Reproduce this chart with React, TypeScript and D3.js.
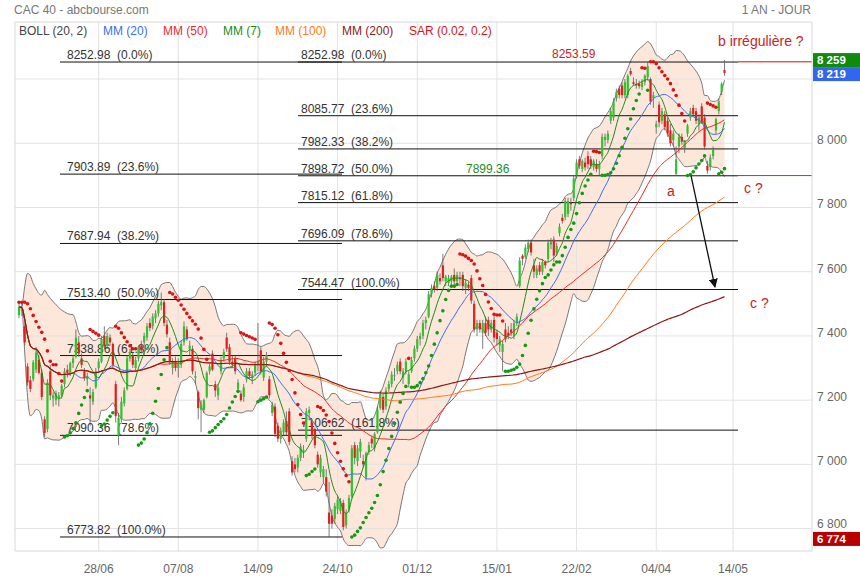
import React from 'react';
import * as d3 from 'd3';

// ---------- DATA ----------
const opens = [7465,7478,7430,7305,7262,7265,7295,7325,7285,7140,7110,7290,7205,7200,7205,7215,7250,7295,7285,7315,7335,7380,7330,7290,7265,7215,7195,7240,7300,7320,7400,7370,7395,7375,7250,7090,7140,7190,7235,7330,7340,7300,7330,7370,7380,7395,7440,7430,7455,7470,7495,7505,7435,7380,7300,7320,7300,7310,7380,7420,7360,7360,7270,7225,7170,7170,7210,7290,7345,7250,7215,7290,7330,7395,7365,7320,7330,7235,7220,7210,7265,7290,7270,7285,7310,7355,7270,7320,7265,7160,7180,7120,7080,7100,7135,7165,7010,7000,6990,7020,7040,7080,7160,7130,7110,7030,6975,6960,6960,6850,6840,6830,6860,6855,6880,6810,6860,6900,7060,7010,7040,7010,6960,7040,7080,7050,7100,7175,7210,7180,7235,7250,7275,7290,7320,7270,7290,7250,7290,7330,7360,7390,7400,7440,7460,7530,7555,7550,7580,7620,7570,7565,7570,7590,7570,7580,7590,7550,7560,7580,7500,7420,7440,7410,7440,7450,7420,7450,7410,7370,7350,7420,7410,7420,7400,7440,7555,7650,7645,7670,7690,7620,7590,7620,7600,7630,7640,7685,7700,7660,7720,7768,7770,7780,7815,7830,7900,7950,7920,7940,7960,7950,7925,7935,7920,7960,8010,8010,8070,8080,8140,8170,8180,8150,8150,8225,8190,8185,8185,8175,8190,8205,8200,8140,8050,8120,8070,8090,8070,8040,8010,7905,7990,8020,7985,8030,8080,8110,8100,8060,8115,8080,7930,7925,7960,8040,8100,8160,8228];
const highs = [7505,7500,7440,7315,7275,7325,7365,7340,7295,7150,7265,7310,7225,7230,7225,7250,7300,7310,7320,7340,7420,7400,7345,7300,7285,7240,7235,7300,7330,7400,7430,7410,7405,7380,7260,7160,7210,7240,7340,7360,7350,7335,7370,7385,7410,7440,7455,7470,7480,7510,7535,7515,7450,7395,7330,7335,7330,7385,7445,7430,7385,7370,7290,7230,7200,7205,7290,7315,7355,7260,7250,7335,7360,7410,7375,7340,7340,7265,7230,7250,7300,7300,7290,7320,7440,7365,7335,7350,7275,7195,7190,7130,7115,7140,7165,7175,7025,7020,7030,7065,7060,7175,7180,7140,7115,7040,7030,6995,6985,6945,6860,6880,6900,6895,6890,6860,6905,7060,7070,7060,7080,7030,7040,7070,7090,7100,7180,7230,7220,7240,7260,7290,7300,7320,7330,7300,7330,7290,7335,7370,7400,7410,7450,7460,7540,7560,7570,7600,7595,7655,7590,7590,7590,7610,7600,7600,7600,7575,7570,7590,7510,7450,7450,7450,7460,7460,7450,7465,7420,7400,7385,7440,7430,7440,7450,7470,7645,7655,7685,7700,7700,7640,7620,7630,7640,7635,7700,7705,7710,7690,7750,7780,7830,7830,7830,7900,7950,7960,7950,7955,7975,7960,7950,7950,7945,8030,8030,8040,8110,8140,8170,8180,8190,8200,8215,8235,8205,8200,8195,8200,8215,8253.59,8205,8160,8070,8130,8110,8100,8080,8060,8040,7990,8030,8030,8010,8060,8110,8120,8110,8090,8125,8090,7945,7965,7990,8080,8140,8190,8259];
const lows = [7455,7462,7370,7245,7225,7258,7285,7280,7200,7085,7100,7200,7180,7185,7180,7205,7240,7270,7275,7300,7330,7335,7300,7260,7245,7120,7185,7235,7290,7315,7360,7360,7370,7300,7130,7060,7130,7180,7230,7320,7300,7290,7320,7345,7340,7385,7415,7420,7440,7460,7480,7430,7395,7310,7280,7290,7270,7300,7370,7385,7340,7280,7250,7140,7100,7160,7205,7280,7290,7210,7200,7280,7320,7350,7310,7300,7280,7230,7195,7195,7255,7265,7250,7275,7290,7280,7260,7305,7205,7150,7085,7070,7065,7090,7090,7060,6965,6975,6975,7010,7020,7070,7140,7080,7050,6990,6960,6940,6900,6773.82,6800,6815,6845,6845,6795,6800,6850,6895,7000,6995,7020,6990,6950,7030,7050,7040,7095,7170,7160,7170,7225,7240,7260,7280,7280,7250,7280,7240,7285,7320,7350,7370,7390,7420,7455,7520,7535,7540,7560,7570,7555,7555,7560,7560,7560,7555,7540,7530,7540,7500,7410,7400,7410,7360,7400,7400,7410,7380,7370,7350,7290,7380,7390,7400,7390,7430,7550,7620,7640,7660,7650,7580,7580,7590,7590,7610,7630,7670,7630,7650,7710,7750,7760,7770,7790,7820,7890,7920,7910,7915,7920,7920,7915,7910,7900,7950,7990,8000,8060,8070,8130,8140,8140,8140,8140,8210,8180,8170,8170,8165,8180,8195,8120,8110,8030,8050,8060,8040,8020,7990,7990,7899.36,7970,7995,7970,8020,8070,8085,8060,8040,8060,7980,7905,7915,7950,8030,8090,8150,8210];
const closes = [7490,7486,7380,7255,7235,7318,7348,7285,7210,7098,7255,7215,7215,7222,7215,7245,7290,7285,7315,7330,7395,7345,7310,7268,7275,7205,7225,7290,7320,7390,7368,7400,7380,7310,7150,7145,7195,7230,7330,7350,7310,7325,7365,7355,7400,7430,7425,7460,7470,7500,7505,7440,7405,7320,7320,7300,7315,7375,7430,7390,7370,7290,7275,7175,7185,7200,7285,7305,7295,7230,7240,7325,7350,7360,7320,7310,7290,7255,7200,7240,7290,7275,7280,7310,7320,7290,7320,7340,7215,7185,7095,7080,7105,7130,7100,7070,6975,6985,7020,7055,7045,7165,7170,7090,7060,7000,7020,6985,6915,6815,6815,6870,6890,6885,6805,6850,6895,7050,7020,7050,7070,7000,7035,7060,7065,7095,7170,7220,7170,7230,7250,7280,7278,7310,7290,7290,7320,7280,7325,7360,7390,7400,7440,7450,7530,7550,7545,7590,7570,7580,7585,7580,7585,7570,7590,7578,7555,7565,7550,7510,7420,7440,7420,7440,7410,7420,7440,7395,7390,7390,7375,7390,7400,7410,7440,7460,7635,7640,7675,7690,7660,7600,7610,7600,7630,7620,7690,7695,7650,7680,7740,7758,7820,7820,7810,7890,7940,7930,7945,7925,7935,7930,7945,7920,7935,8020,8020,8030,8100,8130,8160,8150,8150,8190,8210,8215,8185,8180,8178,8190,8210,8240,8130,8150,8060,8065,8100,8050,8030,8000,8030,7950,8020,8005,8005,8055,8100,8090,8070,8080,8065,7990,7915,7955,7980,8075,8130,8185,8219];

const dateTickIndex = [28, 56, 84, 112, 140, 168, 196, 224, 251];
const dateTickLabels = ['28/06', '07/08', '14/09', '24/10', '01/12', '15/01', '22/02', '04/04', '14/05'];
const priceTicks = [6800, 7000, 7200, 7400, 7600, 7800, 8000, 8200];
const priceTickLabels = ['6 800', '7 000', '7 200', '7 400', '7 600', '7 800', '8 000', ''];

const fibLeftLevels = [8252.98, 7903.89, 7687.94, 7513.40, 7338.86, 7090.36, 6773.82];
const fibLeftPct = ['0.0%', '23.6%', '38.2%', '50.0%', '61.8%', '78.6%', '100.0%'];
const fibRightLevels = [8252.98, 8085.77, 7982.33, 7898.72, 7815.12, 7696.09, 7544.47, 7106.62];
const fibRightPct = ['0.0%', '23.6%', '38.2%', '50.0%', '61.8%', '78.6%', '100.0%', '161.8%'];

const legendItems = ['BOLL (20, 2)', 'MM (20)', 'MM (50)', 'MM (7)', 'MM (100)', 'MM (200)', 'SAR (0.02, 0.2)'];
const legendColors = ['#444444', '#3a6ef0', '#ee2a2a', '#1a8c1a', '#ff7a1a', '#8c1a1a', '#d41515'];

const badgeValues = [8259, 8219, 6774];
const badgeLabels = ['8 259', '8 219', '6 774'];
const badgeColors = ['#0f8a0f', '#3366ee', '#b80000'];

const markHigh = 8253.59;
const markLow = 7899.36;

// ---------- INDICATORS (chart definitions, expanding window at start) ----------
function sma(v: number[], n: number) {
  return v.map((_, i) => {
    const s = Math.max(0, i - n + 1);
    return d3.mean(v.slice(s, i + 1)) as number;
  });
}
function boll(v: number[], n: number, k: number) {
  return v.map((_, i) => {
    const s = Math.max(0, i - n + 1);
    const w = v.slice(s, i + 1);
    const m = d3.mean(w) as number;
    const sd = Math.sqrt(d3.mean(w.map((a) => (a - m) * (a - m))) as number);
    return [m + k * sd, m - k * sd];
  });
}
function psar(h: number[], l: number[], step: number, max: number) {
  const out: { v: number; up: boolean }[] = [];
  let up = false;
  let af = step;
  let ep = l[0];
  let s = h[0];
  out.push({ v: s, up });
  for (let i = 1; i < h.length; i++) {
    s = s + af * (ep - s);
    if (up) {
      s = Math.min(s, l[i - 1], i > 1 ? l[i - 2] : l[i - 1]);
      if (l[i] < s) { up = false; s = ep; ep = l[i]; af = step; }
      else if (h[i] > ep) { ep = h[i]; af = Math.min(af + step, max); }
    } else {
      s = Math.max(s, h[i - 1], i > 1 ? h[i - 2] : h[i - 1]);
      if (h[i] > s) { up = true; s = ep; ep = h[i]; af = step; }
      else if (l[i] < ep) { ep = l[i]; af = Math.min(af + step, max); }
    }
    out.push({ v: s, up });
  }
  return out;
}

const FONT = 'Liberation Sans, Arial, Helvetica, sans-serif';

export default function App() {
  const W = 860, H = 580;
  const plotL = 15, plotR = 812, plotT = 22, plotB = 551;
  const N = closes.length;
  const x = d3.scaleLinear().domain([0, N - 1]).range([19, 724.5]);
  const y = d3.scaleLinear().domain([6733, 8377.6]).range([550.1, 22]);

  const idx = d3.range(N);
  const mm7 = sma(closes, 7);
  const mm20 = sma(closes, 20);
  const mm50 = sma(closes, 50);
  const mm100 = sma(closes, 100);
  const mm200 = sma(closes, 200);
  const bb = boll(closes, 20, 2);
  const sar = psar(highs, lows, 0.02, 0.2);

  const line = (arr: number[]) =>
    d3.line<number>().x((i) => x(i)).y((i) => y(arr[i])).curve(d3.curveMonotoneX)(idx) || '';
  const bandArea = d3.area<number>().x((i) => x(i)).y0((i) => y(bb[i][1])).y1((i) => y(bb[i][0])).curve(d3.curveMonotoneX)(idx) || '';
  const upperLine = d3.line<number>().x((i) => x(i)).y((i) => y(bb[i][0])).curve(d3.curveMonotoneX)(idx) || '';
  const lowerLine = d3.line<number>().x((i) => x(i)).y((i) => y(bb[i][1])).curve(d3.curveMonotoneX)(idx) || '';

  const bodyW = 2.2;
  const grid = '#e2e2e2';

  return (
    <svg width={W} height={H} style={{ display: 'block', position: 'absolute', left: 0, top: 0, background: '#fff' }} fontFamily={FONT}>
      <defs>
        <clipPath id="plotclip"><rect x={plotL} y={plotT} width={plotR - plotL} height={plotB - plotT} /></clipPath>
        <marker id="arr" viewBox="0 0 10 10" refX="9" refY="5" markerWidth="7" markerHeight="7" orient="auto">
          <path d="M0,0 L10,5 L0,10 z" fill="#111" />
        </marker>
      </defs>
      <rect x={0} y={0} width={W} height={H} fill="#fff" />
      {/* header */}
      <text x={14} y={14} fontSize={12} fill="#777">CAC 40 - abcbourse.com</text>
      <text x={811} y={14} fontSize={12} fill="#777" textAnchor="end">1 AN - JOUR</text>

      <g clipPath="url(#plotclip)">
        <path d={bandArea} fill="#fde7da" stroke="none" />
        {priceTicks.map((p) => (
          <line key={'gy' + p} x1={plotL} x2={plotR} y1={y(p)} y2={y(p)} stroke={grid} strokeWidth={1} />
        ))}
        {dateTickIndex.map((t) => (
          <line key={'gx' + t} x1={x(t)} x2={x(t)} y1={plotT} y2={plotB} stroke={grid} strokeWidth={1} />
        ))}
        <path d={upperLine} fill="none" stroke="#6a6a6a" strokeWidth={0.9} />
        <path d={lowerLine} fill="none" stroke="#6a6a6a" strokeWidth={0.9} />

        {fibLeftLevels.map((lv, k) => (
          <g key={'fl' + k}>
            <line x1={60} x2={342} y1={y(lv)} y2={y(lv)} stroke="#111" strokeWidth={1} />
            <text x={67} y={y(lv) - 3} fontSize={12} fill="#333">{lv.toFixed(2) + '\u00a0\u00a0(' + fibLeftPct[k] + ')'}</text>
          </g>
        ))}
        {fibRightLevels.map((lv, k) => (
          <g key={'fr' + k}>
            <line x1={298} x2={738} y1={y(lv)} y2={y(lv)} stroke="#111" strokeWidth={1} />
            <text x={301} y={y(lv) - 3} fontSize={12} fill="#333">{lv.toFixed(2) + '\u00a0\u00a0(' + fibRightPct[k] + ')'}</text>
          </g>
        ))}
        <line x1={738} x2={plotR} y1={y(markHigh)} y2={y(markHigh)} stroke="#cc1111" strokeWidth={1} />
        <line x1={738} x2={plotR} y1={y(markLow)} y2={y(markLow)} stroke="#1a8c1a" strokeWidth={1} />

        {idx.map((i) => {
          const o = opens[i], c = closes[i];
          const upC = c >= o;
          const top = y(Math.max(o, c));
          const bot = y(Math.min(o, c));
          return (
            <g key={'c' + i}>
              <line x1={x(i)} x2={x(i)} y1={y(highs[i])} y2={y(lows[i])} stroke="#5a5a5a" strokeWidth={0.8} />
              <rect x={x(i) - bodyW / 2} y={top} width={bodyW} height={Math.max(1, bot - top)} fill={upC ? '#2fc42f' : '#e21e1e'} />
            </g>
          );
        })}

        <path d={line(mm20)} fill="none" stroke="#3a6ef0" strokeWidth={1} />
        <path d={line(mm50)} fill="none" stroke="#ee2a2a" strokeWidth={1} />
        <path d={line(mm7)} fill="none" stroke="#1a8c1a" strokeWidth={1} />
        <path d={line(mm100)} fill="none" stroke="#ff7a1a" strokeWidth={1} />
        <path d={line(mm200)} fill="none" stroke="#8c1a1a" strokeWidth={1.2} />

        {sar.map((s, i) => (
          <circle key={'s' + i} cx={x(i)} cy={y(s.v)} r={1.8} fill={s.up ? '#129a12' : '#d81414'} />
        ))}
      </g>

      <line x1={plotL} x2={plotR} y1={plotT} y2={plotT} stroke="#d8d8d8" />
      <line x1={plotL} x2={plotR} y1={plotB} y2={plotB} stroke="#d8d8d8" />
      <line x1={plotL} x2={plotL} y1={plotT} y2={plotB} stroke="#d8d8d8" />
      <line x1={plotR} x2={plotR} y1={plotT} y2={plotB} stroke="#d8d8d8" />

      {(() => {
        const xs = [19, 103, 163, 223, 275, 342, 409];
        return legendItems.map((t, k) => (
          <text key={'lg' + k} x={xs[k]} y={35} fontSize={12} fill={legendColors[k]}>{t}</text>
        ));
      })()}

      <text x={552} y={58} fontSize={12} fill="#cc2222">{markHigh.toFixed(2)}</text>
      <text x={466} y={173} fontSize={12} fill="#1e8c1e">{markLow.toFixed(2)}</text>
      <text x={718} y={46} fontSize={14} fill="#cc2222">b irrégulière ?</text>
      <text x={667} y={196} fontSize={14} fill="#cc2222">a</text>
      <text x={744} y={193} fontSize={14} fill="#cc2222">c ?</text>
      <text x={750} y={308} fontSize={14} fill="#cc2222">c ?</text>
      <line x1={691} y1={y(markLow)} x2={715} y2={287} stroke="#111" strokeWidth={1.3} markerEnd="url(#arr)" />

      {priceTicks.map((p, k) => (
        <text key={'yl' + p} x={817} y={p === 6800 ? y(p) - 0.5 : y(p) + 1} fontSize={12} fill="#666">{priceTickLabels[k]}</text>
      ))}
      {dateTickIndex.map((t, k) => (
        <text key={'xl' + t} x={x(t)} y={573} fontSize={12} fill="#666" textAnchor="middle">{dateTickLabels[k]}</text>
      ))}

      {badgeValues.map((v, k) => {
        const top = k === 0 ? y(v) - 7 : k === 1 ? y(badgeValues[0]) + 7 : y(v) - 5;
        return (
          <g key={'bd' + k}>
            <rect x={813} y={top} width={47} height={14} fill={badgeColors[k]} />
            <text x={817} y={top + 11} fontSize={11.5} fontWeight="bold" fill="#fff">{badgeLabels[k]}</text>
          </g>
        );
      })}
    </svg>
  );
}
